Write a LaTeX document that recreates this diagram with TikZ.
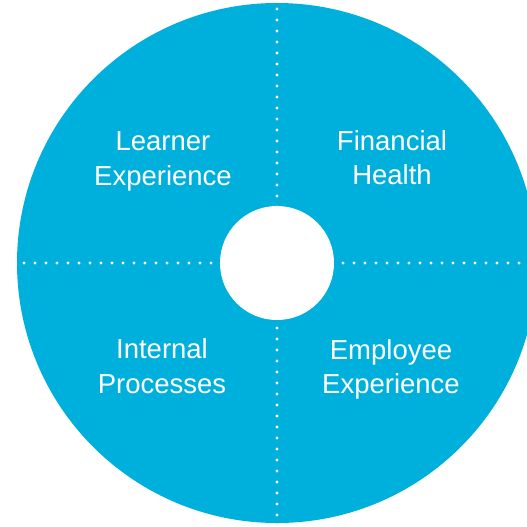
\documentclass[tikz,border=0pt]{standalone}
\usepackage{fontspec}
\setmainfont{Liberation Sans}
\definecolor{wheel}{RGB}{0,176,220}
\begin{document}
\begin{tikzpicture}[x=1pt,y=-1pt,
  lbl/.style={text=white,anchor=base,inner sep=0pt,font=\fontsize{27.5}{34}\selectfont},
  dot/.style={fill=white,draw=none}]
\useasboundingbox (0,0) rectangle (527,527);
\clip (0,0) rectangle (527,527);
\coordinate (c) at (277,263);
\fill[wheel] (c) circle[radius=260];
\foreach \k in {0,...,46}{\fill[dot] (277,9+11*\k) circle[radius=1.6];}
\foreach \k in {0,...,46}{\fill[dot] (24+11*\k,263) circle[radius=1.6];}
\fill[white] (c) circle[radius=57];
\node[lbl] (le1) at (163,150.5) {Learner};
\node[lbl] (le2) at (163,185) {Experience};
\node[lbl] (fh1) at (392,150) {Financial};
\node[lbl] (fh2) at (392,184.5) {Health};
\node[lbl] (ip1) at (162,358.5) {Internal};
\node[lbl] (ip2) at (162,393) {Processes};
\node[lbl] (ee1) at (391,359) {Employee};
\node[lbl] (ee2) at (391,393.5) {Experience};
\end{tikzpicture}
\end{document}
